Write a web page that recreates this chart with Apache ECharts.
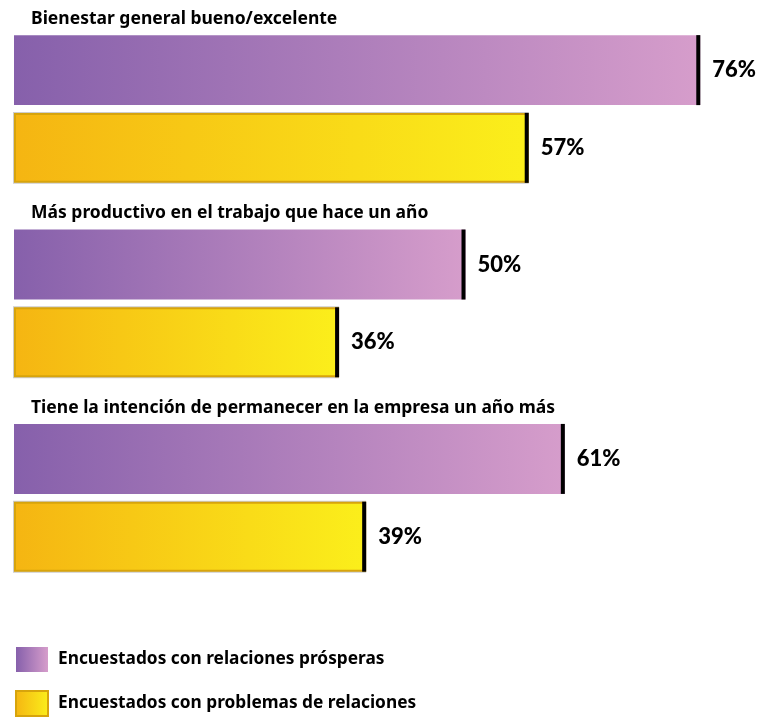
<!DOCTYPE html>
<html>
<head>
<meta charset="utf-8">
<script src="https://cdn.jsdelivr.net/npm/echarts@6/dist/echarts.min.js"></script>
<style>
  html, body { margin: 0; padding: 0; background: #ffffff; }
  #chart { width: 759px; height: 718px; }
</style>
</head>
<body>
<div id="chart"></div>
<script>
// Survey outcomes, share of respondents (%)
const categories = [
  'Bienestar general bueno/excelente',
  'Más productivo en el trabajo que hace un año',
  'Tiene la intención de permanecer en la empresa un año más'
];
const thrivingValues = [76, 50, 61];
const strugglingValues = [57, 36, 39];
const seriesNames = [
  'Encuestados con relaciones prósperas',
  'Encuestados con problemas de relaciones'
];

const purpleGradient = () => new echarts.graphic.LinearGradient(0, 0, 1, 0, [
  { offset: 0, color: '#8660ab' },
  { offset: 1, color: '#d69dcb' }
]);
const yellowGradient = () => new echarts.graphic.LinearGradient(0, 0, 1, 0, [
  { offset: 0, color: '#f5b512' },
  { offset: 1, color: '#fbef1b' }
]);

const labelFont = '900 22px Lato, "DejaVu Sans", sans-serif';
const textFamily = '"Noto Sans", "Open Sans", sans-serif';

// side: -1 draws the upper bar of a pair, +1 the lower one
function makeRenderer(side) {
  return function (params, api) {
    const cat = api.value(1);
    const val = api.value(0);
    const p0 = api.coord([0, cat]);
    const p1 = api.coord([val, cat]);
    const band = api.size([0, 1])[1];
    const barH = band * 0.36;
    const gap = band * 0.02;
    const top = side < 0 ? p0[1] - gap - barH : p0[1] + gap;
    const x0 = p0[0];
    const x1 = p1[0];
    const w = x1 - x0;
    const children = [];
    if (side < 0) {
      children.push({
        type: 'rect',
        shape: { x: x0, y: top, width: w, height: barH },
        style: { fill: purpleGradient() }
      });
    } else {
      children.push({
        type: 'rect',
        shape: { x: x0 - 1, y: top - 1, width: w + 1, height: barH + 2 },
        style: { fill: '#cdcdcd' }
      });
      children.push({
        type: 'rect',
        shape: { x: x0 + 1, y: top + 1, width: w - 2, height: barH - 2 },
        style: { fill: yellowGradient(), stroke: '#d7a40c', lineWidth: 2 }
      });
    }
    // end marker
    children.push({
      type: 'rect',
      shape: { x: x1 - 4, y: top, width: 4, height: barH },
      style: { fill: '#000000' }
    });
    children.push({
      type: 'text',
      style: {
        x: x1 + 12,
        y: top + barH / 2,
        text: val + '%',
        font: labelFont,
        fill: '#000000',
        align: 'left',
        verticalAlign: 'middle'
      }
    });
    return { type: 'group', children: children };
  };
}

const chart = echarts.init(document.getElementById('chart'), null, { renderer: 'canvas' });
chart.setOption({
  animation: false,
  backgroundColor: '#ffffff',
  grid: { left: 14, top: 11.8, width: 722.4, height: 583.2, containLabel: false },
  xAxis: { type: 'value', min: 0, max: 80, show: false },
  yAxis: {
    type: 'category',
    inverse: true,
    data: categories,
    axisLine: { show: false },
    axisTick: { show: false },
    splitLine: { show: false },
    axisLabel: {
      inside: true,
      margin: 17,
      align: 'left',
      verticalAlign: 'bottom',
      padding: [0, 0, 81, 0],
      fontFamily: textFamily,
      fontWeight: 'bold',
      fontSize: 17.5,
      color: '#000000'
    }
  },
  legend: {
    orient: 'vertical',
    left: 15,
    top: 647,
    padding: 0,
    height: 71,
    itemWidth: 32,
    itemHeight: 25,
    itemGap: 18,
    textStyle: {
      fontFamily: textFamily,
      fontWeight: 'bold',
      fontSize: 17.3,
      color: '#000000',
      padding: [0, 0, 0, 5]
    },
    data: [
      { name: seriesNames[0], icon: 'rect', itemStyle: { color: purpleGradient(), borderWidth: 0 } },
      { name: seriesNames[1], icon: 'rect', itemStyle: { color: yellowGradient(), borderColor: '#d7a40c', borderWidth: 2 } }
    ]
  },
  series: [
    {
      name: seriesNames[0],
      type: 'custom',
      renderItem: makeRenderer(-1),
      itemStyle: { color: purpleGradient() },
      encode: { x: 0, y: 1 },
      data: thrivingValues.map((v, i) => [v, i])
    },
    {
      name: seriesNames[1],
      type: 'custom',
      renderItem: makeRenderer(1),
      itemStyle: { color: yellowGradient() },
      encode: { x: 0, y: 1 },
      data: strugglingValues.map((v, i) => [v, i])
    }
  ]
});
</script>
</body>
</html>
